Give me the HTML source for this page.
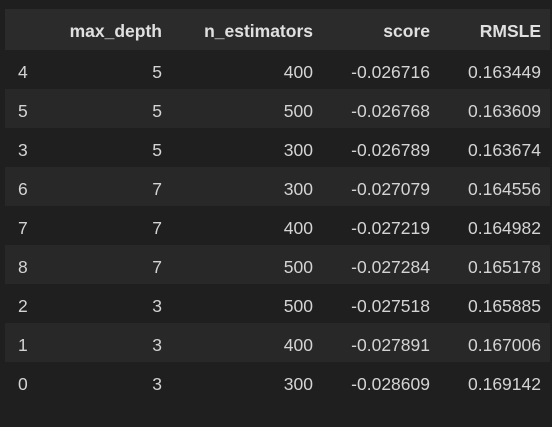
<!DOCTYPE html>
<html><head><meta charset="utf-8"><style>
body{margin:0;width:552px;height:427px;background:#1f1f1f;font-family:"Liberation Sans",sans-serif;overflow:hidden}
.r{position:absolute;left:5px;width:545px;height:39px}
.c{position:absolute;top:3px;line-height:39px;font-size:17.5px;color:#d4d4d4;white-space:nowrap}
.h .c{font-weight:bold;color:#e0e0e0;line-height:41px;top:2px}
</style></head><body>
<div id="t"></div>
<script>
const idx=[4,5,3,6,7,8,2,1,0];
const maxDepth=[5,5,5,7,7,7,3,3,3];
const nEst=[400,500,300,300,400,500,500,400,300];
const score=["-0.026716","-0.026768","-0.026789","-0.027079","-0.027219","-0.027284","-0.027518","-0.027891","-0.028609"];
const rmsle=["0.163449","0.163609","0.163674","0.164556","0.164982","0.165178","0.165885","0.167006","0.169142"];
const headers=["","max_depth","n_estimators","score","RMSLE"];
const rights=[null,162,313,430,541];
const t=document.getElementById('t');
function cell(row,txt,i,name){
  const c=document.createElement('div');c.className='c';c.textContent=txt;
  
  
  if(i===0)c.style.left='13px';else c.style.right=(550-rights[i])+'px';
  row.appendChild(c);
}
const h=document.createElement('div');h.className='r h';h.style.top='9px';h.style.height='41px';h.style.background='#2b2b2b';


headers.forEach((x,i)=>{if(x)cell(h,x,i,'header-'+x.replace('_','-').toLowerCase());});
t.appendChild(h);
idx.forEach((v,k)=>{
  const r=document.createElement('div');r.className='r';r.style.top=(50+39*k)+'px';
  r.style.background=k%2?'#282828':'#1f1f1f';
  
  
  [v,maxDepth[k],nEst[k],score[k],rmsle[k]].forEach((x,i)=>cell(r,String(x),i,['index-cell','max-depth-cell','n-estimators-cell','score-cell','rmsle-cell'][i]));
  t.appendChild(r);
});
</script>
</body></html>
